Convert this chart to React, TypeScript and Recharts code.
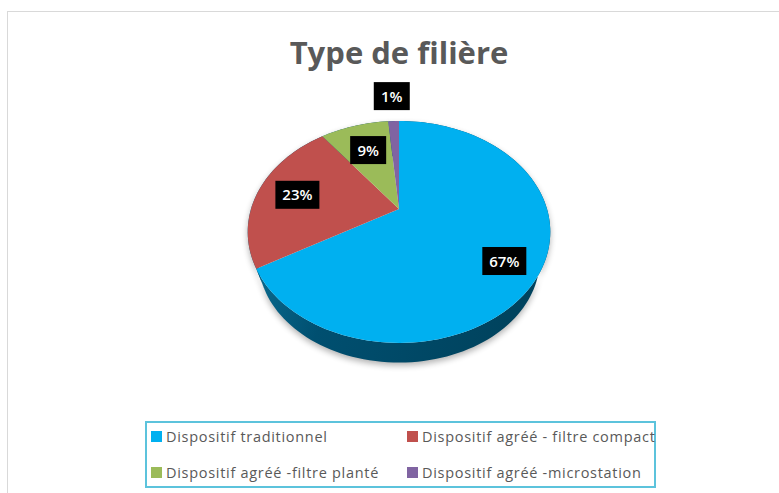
import React from "react";
import { PieChart, Pie, Cell, Legend } from "recharts";

const categories = [
  "Dispositif traditionnel",
  "Dispositif agréé - filtre compact",
  "Dispositif agréé -filtre planté",
  "Dispositif agréé -microstation",
];
const shares = [66.6, 23.1, 8.9, 1.4];
const colors = ["#00b0f0", "#c0504d", "#9bbb59", "#8064a2"];
const labelNudges = [
  [1, 9],
  [4, 1],
  [4, 6],
  [-3, -44],
];

const data = categories.map((name, i) => ({ name, value: shares[i] }));

const TILT_Y = 0.7176;
const PERSPECTIVE = 0.207;
const LOWER_SCALE = 0.93;
const LOWER_SHIFT = 29;

function project(cx: number, cy: number, R: number, angleDeg: number, f = 1) {
  const t = ((90 - angleDeg) * Math.PI) / 180;
  const w = 1 + PERSPECTIVE * f * Math.cos(t);
  return [cx + (R * f * Math.sin(t)) / w, cy - (R * TILT_Y * f * Math.cos(t)) / w];
}

function arcPoints(cx: number, cy: number, R: number, a0: number, a1: number) {
  const n = Math.max(2, Math.ceil(Math.abs(a1 - a0) / 2));
  const pts: number[][] = [];
  for (let i = 0; i <= n; i++) pts.push(project(cx, cy, R, a0 + ((a1 - a0) * i) / n));
  return pts;
}

const toPath = (pts: number[][]) =>
  pts.map((p, i) => `${i ? "L" : "M"}${p[0].toFixed(2)} ${p[1].toFixed(2)}`).join(" ");

function TopSector(props: any) {
  const { cx, cy, outerRadius, startAngle, endAngle, fill } = props;
  const pts = arcPoints(cx, cy, outerRadius, startAngle, endAngle);
  return <path d={`M${cx} ${cy} ${toPath(pts).replace("M", "L")} Z`} fill={fill} stroke="none" />;
}

function WallSector(props: any) {
  const { cx, cy, outerRadius, startAngle, endAngle } = props;
  const pts = arcPoints(cx, cy, outerRadius, startAngle, endAngle);
  const low = arcPoints(cx, cy + LOWER_SHIFT, outerRadius * LOWER_SCALE, startAngle, endAngle).reverse();
  const d = `${toPath(pts)} ${toPath(low).replace("M", "L")} Z`;
  return (
    <g>
      <path d={d} fill="#000" opacity={0.3} filter="url(#soft)" transform="translate(0 3)" />
      <path d={d} fill="url(#wallFill)" stroke="none" />
    </g>
  );
}

function DataLabel(props: any) {
  const { cx, cy, outerRadius, midAngle, percent, index } = props;
  const [x, y] = project(cx, cy, outerRadius, midAngle, 0.75);
  const [dx, dy] = labelNudges[index];
  const text = `${Math.round(percent * 100)}%`;
  const w = text.length > 2 ? 44 : 36;
  return (
    <g>
      <rect x={x + dx - w / 2} y={y + dy - 14} width={w} height={28} fill="#000" />
      <text x={x + dx} y={y + dy + 5.5} textAnchor="middle" fill="#fff" fontFamily="'Open Sans'" fontWeight={600} fontSize={15}>
        {text}
      </text>
    </g>
  );
}

function LegendBox({ payload }: any) {
  const seen = new Set<string>();
  const items = (payload || []).filter((e: any) => {
    if (e.type === "none" || seen.has(e.value)) return false;
    seen.add(e.value);
    return true;
  });
  return (
    <div
      style={{
        boxSizing: "border-box",
        width: 511,
        height: 67,
        border: "2px solid #5cc3dc",
        position: "relative",
        background: "#fff",
      }}
    >
      {items.map((entry: any) => {
        const i = categories.indexOf(entry.value);
        return (
          <div
            key={entry.value}
            style={{
              position: "absolute",
              left: i % 2 ? 260 : 4,
              top: i < 2 ? 4 : 40,
              whiteSpace: "nowrap",
              fontFamily: "'Open Sans'",
              fontSize: 14.5,
              letterSpacing: 0.7,
              lineHeight: "20px",
              color: "#595959",
            }}
          >
            <span style={{ display: "inline-block", width: 11, height: 11, background: colors[i], marginRight: 4 }} />
            {entry.value}
          </div>
        );
      })}
    </div>
  );
}

export default function App() {
  return (
    <div style={{ position: "absolute", left: 0, top: 0, width: 779, height: 493, overflow: "hidden", background: "#fff" }}>
      <div style={{ position: "absolute", left: 7, top: 11, width: 772, height: 482, borderLeft: "1px solid #d9d9d9", borderTop: "1px solid #d9d9d9" }} />
      <div
        style={{
          position: "absolute",
          left: 0,
          width: 798,
          top: 30,
          textAlign: "center",
          fontFamily: "'Open Sans'",
          fontWeight: 700,
          fontSize: 31,
          lineHeight: "44px",
          color: "#595959",
        }}
      >
        Type de filière
      </div>
      <PieChart width={779} height={493} margin={{ top: 0, right: 0, bottom: 0, left: 0 }} style={{ position: "absolute", left: 0, top: 0 }}>
        <defs>
          <linearGradient id="wallFill" x1="0" y1="0" x2="1" y2="0.25">
            <stop offset="0" stopColor="#0f7aa0" />
            <stop offset="0.4" stopColor="#004f70" />
            <stop offset="1" stopColor="#00435e" />
          </linearGradient>
          <filter id="soft" x="-20%" y="-20%" width="140%" height="140%">
            <feGaussianBlur stdDeviation="3" />
          </filter>
        </defs>
        <Pie
          data={data}
          dataKey="value"
          nameKey="name"
          cx={399}
          cy={209}
          outerRadius={148}
          startAngle={90}
          endAngle={-270}
          isAnimationActive={false}
          legendType="none"
          stroke="none"
          shape={(p: any) => <WallSector {...p} />}
        />
        <Pie
          data={data}
          dataKey="value"
          nameKey="name"
          cx={399}
          cy={209}
          outerRadius={148}
          startAngle={90}
          endAngle={-270}
          isAnimationActive={false}
          stroke="none"
          labelLine={false}
          label={(p: any) => <DataLabel {...p} />}
          shape={(p: any) => <TopSector {...p} />}
        >
          {data.map((d, i) => (
            <Cell key={d.name} fill={colors[i]} />
          ))}
        </Pie>
        <Legend
          layout="horizontal"
          itemSorter={null}
          content={(p: any) => <LegendBox {...p} />}
          wrapperStyle={{ position: "absolute", left: 145, top: 421, width: 511, height: 67, bottom: "auto" }}
        />
      </PieChart>
    </div>
  );
}
